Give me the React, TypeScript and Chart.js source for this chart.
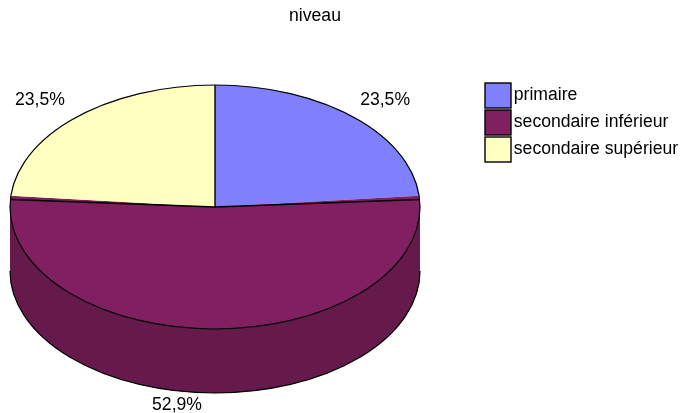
import React, { useEffect, useRef } from "react";
import { Chart, registerables } from "chart.js";

Chart.register(...registerables);

const categories = ["primaire", "secondaire inférieur", "secondaire supérieur"];
const values = [23.5, 52.9, 23.5];
const colors = ["#8080FF", "#802060", "#FFFFC0"];
const sideColors = ["#6060C0", "#661A4C", "#C0C090"];
const chartTitle = "niveau";

const FONT = "Liberation Sans, Arial, sans-serif";
const FONT_SIZE = 17.6;
const SQUASH = 122 / 205;
const DEPTH = 64;
const SEAM = (1.8 * Math.PI) / 180;
const LABEL_SHIFT = [
  [32, -17],
  [-38, 76],
  [-37, -17],
];

const pie3d = {
  id: "pie3d",
  afterLayout(chart: any) {
    chart.chartArea = { left: 10, right: 420, top: 2, bottom: 412, width: 410, height: 410 };
    const t = chart.titleBlock;
    t.left = 0;
    t.right = 630;
    t.top = 6;
    t.bottom = 28;
    const l = chart.legend;
    l.left = 483;
    l.top = 81;
  },
  beforeDatasetsDraw(chart: any) {
    const ctx = chart.ctx;
    const arcs = chart.getDatasetMeta(0).data;
    const { x: cx, y: cy, outerRadius: rx } = arcs[0].getProps(["x", "y", "outerRadius"], true);
    const ry = rx * SQUASH;
    ctx.save();
    arcs.forEach((arc: any, i: number) => {
      const a0 = Math.max(arc.startAngle, 0);
      const a1 = Math.min(arc.endAngle, Math.PI);
      if (a1 <= a0) return;
      ctx.beginPath();
      ctx.ellipse(cx, cy, rx, ry, 0, a0, a1);
      ctx.ellipse(cx, cy + DEPTH, rx, ry, 0, a1, a0, true);
      ctx.closePath();
      ctx.fillStyle = sideColors[i];
      ctx.fill();
      ctx.beginPath();
      ctx.ellipse(cx, cy + DEPTH, rx, ry, 0, a0, a1);
      ctx.lineWidth = 1.2;
      ctx.strokeStyle = "#000";
      ctx.stroke();
    });
    ctx.restore();
    ctx.save();
    ctx.translate(0, cy);
    ctx.scale(1, SQUASH);
    ctx.translate(0, -cy);
  },
  afterDatasetsDraw(chart: any) {
    const ctx = chart.ctx;
    ctx.restore();
    const arcs = chart.getDatasetMeta(0).data;
    const { x: cx, y: cy, outerRadius: rx } = arcs[0].getProps(["x", "y", "outerRadius"], true);
    const ry = rx * SQUASH;
    ctx.save();
    ctx.strokeStyle = "#000";
    ctx.lineWidth = 1.2;
    ctx.beginPath();
    ctx.ellipse(cx, cy, rx, ry, 0, 0, Math.PI * 2);
    ctx.stroke();
    const seamAngles = [
      arcs[0].startAngle,
      arcs[1].startAngle + SEAM,
      arcs[1].endAngle - SEAM,
    ];
    ctx.lineWidth = 1.4;
    seamAngles.forEach((a: number) => {
      ctx.beginPath();
      ctx.moveTo(cx, cy);
      ctx.lineTo(cx + rx * Math.cos(a), cy + ry * Math.sin(a));
      ctx.stroke();
    });
    ctx.fillStyle = "#000";
    ctx.font = `${FONT_SIZE}px ${FONT}`;
    ctx.textAlign = "center";
    ctx.textBaseline = "middle";
    arcs.forEach((arc: any, i: number) => {
      const mid = (arc.startAngle + arc.endAngle) / 2;
      const x = cx + rx * Math.cos(mid) + LABEL_SHIFT[i][0];
      const y = cy + ry * Math.sin(mid) + LABEL_SHIFT[i][1];
      ctx.fillText(values[i].toFixed(1).replace(".", ",") + "%", x, y);
    });
    ctx.restore();
  },
  afterDraw(chart: any) {
    const ctx = chart.ctx;
    ctx.save();
    ctx.strokeStyle = "#000";
    ctx.lineWidth = 1.4;
    chart.legend.legendHitBoxes.forEach((box: any, i: number) => {
      ctx.fillStyle = colors[i];
      ctx.fillRect(box.left, box.top, 26, 25);
      ctx.strokeRect(box.left, box.top, 26, 25);
    });
    ctx.restore();
  },
};

export default function App() {
  const ref = useRef<HTMLCanvasElement>(null);
  useEffect(() => {
    const chart = new Chart(ref.current!, {
      type: "pie",
      data: {
        labels: categories,
        datasets: [{ data: values, backgroundColor: colors, borderWidth: 0, clip: false } as any],
      },
      options: {
        responsive: false,
        animation: false,
        devicePixelRatio: 1,
        plugins: {
          tooltip: { enabled: false },
          title: {
            display: true,
            text: chartTitle,
            color: "#000",
            padding: 0,
            font: { family: FONT, size: FONT_SIZE, weight: "normal" },
          },
          legend: {
            position: "right",
            align: "start",
            labels: {
              boxWidth: 20,
              boxHeight: 25,
              padding: 2,
              color: "#000",
              font: { family: FONT, size: FONT_SIZE },
              generateLabels: () =>
                categories.map((text, i) => ({
                  text,
                  index: i,
                  fillStyle: "transparent",
                  strokeStyle: "transparent",
                  lineWidth: 0,
                })),
            },
          },
        },
      } as any,
      plugins: [pie3d],
    });
    return () => chart.destroy();
  }, []);
  return (
    <div style={{ position: "fixed", left: 0, top: 0, width: 681, height: 413, background: "#fff" }}>
      <canvas ref={ref} width={681} height={413} style={{ display: "block" }} />
    </div>
  );
}
